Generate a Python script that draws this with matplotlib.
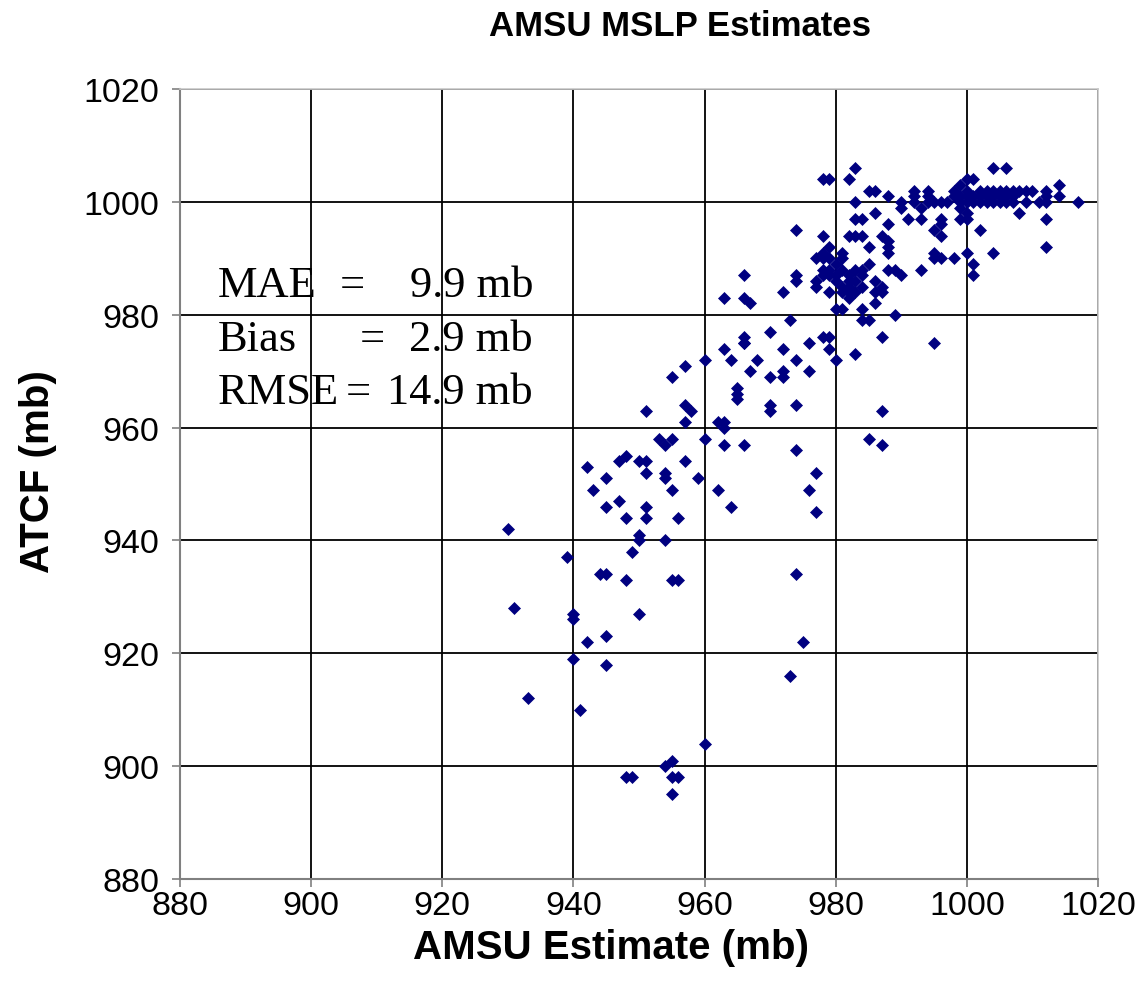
import matplotlib
matplotlib.use("Agg")
import matplotlib.pyplot as plt

# AMSU estimate vs. ATCF best-track minimum sea-level pressure (mb)
amsu = [
    # deepest storms
    930, 931, 933, 939, 940, 940, 940, 941, 942, 942, 943, 944, 945, 945, 945,
    945, 945, 947, 947, 948, 948, 948, 949, 950, 950, 950, 951, 951, 951, 951,
    950, 951, 953, 954, 954, 954, 954, 955, 955, 955, 956, 956, 955, 957, 957,
    958, 957, 957, 959, 960, 960, 960, 962, 963, 963, 962, 963, 963, 964, 964,
    965, 965, 965, 966, 966, 967, 968, 970, 970, 970, 972, 972, 972, 974, 974,
    974, 976, 976, 977, 976, 977, 974, 975, 973, 979, 980, 983, 987, 985, 987,
    987, 995,
    # sub-900 group
    948, 949, 954, 955, 955, 956, 955,
    # rising branch
    963, 966, 967, 966, 966, 966, 970, 973, 972, 974, 974, 974, 978, 978, 979,
    # dense core
    977, 978, 978, 979, 979, 981, 981, 979, 978, 977, 977, 978, 979, 980, 980,
    981, 982, 983, 982, 981, 982, 983, 982, 981, 979, 980, 983, 984, 984, 985,
    985, 984, 982, 980, 981, 984, 984, 985, 986, 986, 986, 987, 987, 988, 989,
    990, 988, 988, 988, 987, 982, 983, 984, 986, 983, 984, 988, 991, 993, 996,
    999, 1000, 1000, 1002, 989,
    # upper band
    983, 978, 979, 982, 985, 986, 988, 990, 992, 992, 992, 994, 994, 994, 995,
    996, 997, 998, 998, 999, 999, 983, 1000, 1001, 1004, 1006, 990, 993, 999,
    995, 996, 996, 995, 995, 996, 993, 998, 1000, 1001, 1001, 1004, 1008, 1012,
    1012,
    1000, 1002, 1003, 1004, 1005, 1006, 1007, 1008, 1009, 1010, 1012,
    1000, 1001, 1002, 1003, 1004, 1005, 1006, 1007, 1012, 1014,
    999, 1000, 1001, 1002, 1003, 1004, 1005, 1006, 1007, 1009, 1011, 1012, 1017,
    1014,
]

atcf = [
    942, 928, 912, 937, 927, 926, 919, 910, 922, 953, 949, 934, 934, 923, 918,
    951, 946, 947, 954, 955, 944, 933, 938, 941, 940, 954, 954, 952, 946, 944,
    927, 963, 958, 957, 952, 951, 940, 958, 949, 933, 933, 944, 969, 971, 964,
    963, 961, 954, 951, 958, 972, 904, 961, 961, 960, 949, 957, 974, 972, 946,
    967, 966, 965, 975, 957, 970, 972, 969, 964, 963, 974, 970, 969, 972, 964,
    956, 975, 970, 952, 949, 945, 934, 922, 916, 974, 972, 973, 976, 958, 957,
    963, 975,
    898, 898, 900, 901, 898, 898, 895,
    983, 983, 982, 987, 976, 975, 977, 979, 984, 987, 986, 995, 994, 976, 976,
    990, 990, 991, 992, 990, 991, 990, 988, 988, 986, 985, 987, 987, 989, 987,
    988, 987, 988, 986, 985, 985, 984, 984, 984, 984, 986, 986, 987, 988, 989,
    992, 985, 983, 981, 981, 981, 979, 979, 982, 986, 984, 984, 985, 988, 988,
    987, 991, 992, 993, 994, 994, 994, 994, 998, 997, 997, 996, 997, 997, 997,
    997, 998, 997, 995, 980,
    1006, 1004, 1004, 1004, 1002, 1002, 1001, 1000, 1002, 1001, 1000, 1002,
    1001, 1000, 1000, 1000, 1000, 1002, 1001, 1003, 1001, 1000, 1004, 1004,
    1006, 1006, 999, 999, 999,
    995, 994, 996, 991, 990, 990, 988, 990, 991, 989, 987, 991, 998, 997,
    992,
    1002, 1002, 1002, 1002, 1002, 1002, 1002, 1002, 1002, 1002, 1002,
    1001, 1001, 1001, 1001, 1001, 1001, 1001, 1001, 1001, 1001,
    1000, 1000, 1000, 1000, 1000, 1000, 1000, 1000, 1000, 1000, 1000, 1000, 1000,
    1003,
]

ticks = [880, 900, 920, 940, 960, 980, 1000, 1020]

stat_names = ["MAE", "Bias", "RMSE"]
stat_values = ["9.9 mb", "2.9 mb", "14.9 mb"]

W, H = 1144, 995
fig = plt.figure(figsize=(W / 100, H / 100), dpi=100)
fig.patch.set_facecolor("white")

ax_l, ax_r, ax_t, ax_b = 180, 1098, 90, 880
ax = fig.add_axes([ax_l / W, 1 - ax_b / H, (ax_r - ax_l) / W, (ax_b - ax_t) / H])

ax.set_xlim(880, 1020)
ax.set_ylim(880, 1020)
ax.set_xticks(ticks)
ax.set_yticks(ticks)
ax.grid(True, color="black", linewidth=1.3)
ax.set_axisbelow(True)
for side in ("top", "right"):
    ax.spines[side].set_color("#c8c8c8")
    ax.spines[side].set_linewidth(1.2)
for side in ("left", "bottom"):
    ax.spines[side].set_color("#808080")
    ax.spines[side].set_linewidth(1.5)
ax.tick_params(direction="out", length=6, width=1.2, color="#808080",
               labelsize=24.5)
ax.tick_params(axis="y", pad=9)
ax.tick_params(axis="x", pad=2)
for lab in ax.get_xticklabels() + ax.get_yticklabels():
    lab.set_fontfamily("Liberation Sans")

ax.plot(amsu, atcf, linestyle="none", marker="D", markersize=6,
        color="#000080", markeredgewidth=0.5)

ax.set_xlabel("AMSU Estimate (mb)", fontsize=29, fontweight="bold",
              family="Liberation Sans", va="center")
ax.set_ylabel("ATCF (mb)", fontsize=29, fontweight="bold",
              family="Liberation Sans", va="center")
ax.xaxis.set_label_coords((611 - ax_l) / (ax_r - ax_l), (ax_b - 948) / (ax_b - ax_t))
ax.yaxis.set_label_coords((38 - ax_l) / (ax_r - ax_l), (ax_b - 472) / (ax_b - ax_t))
fig.text(680 / W, 1 - 26 / H, "AMSU MSLP Estimates", ha="center", va="center",
         fontsize=25, fontweight="bold", family="Liberation Sans")

# summary statistics box text
rows_y = [286, 340, 393]
eq_x = [352, 372, 358]
for name, val, yy, ex in zip(stat_names, stat_values, rows_y, eq_x):
    fig.text(218 / W, 1 - yy / H, name, ha="left", va="center",
             fontsize=32, family="Liberation Serif")
    fig.text(ex / W, 1 - yy / H, "=", ha="center", va="center",
             fontsize=32, family="Liberation Serif")
    fig.text(533 / W, 1 - yy / H, val, ha="right", va="center",
             fontsize=32, family="Liberation Serif")

fig.savefig("out.png", dpi=100, facecolor="white")
